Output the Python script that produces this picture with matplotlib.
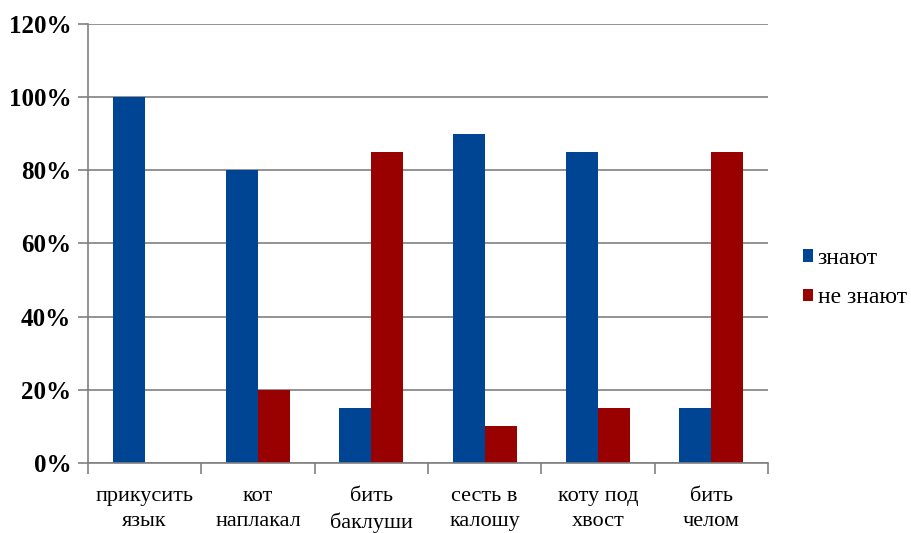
import matplotlib
matplotlib.use("Agg")
import matplotlib.pyplot as plt
import numpy as np
from matplotlib.ticker import FixedLocator, PercentFormatter

categories = ["прикусить\nязык", "кот\nнаплакал", "бить\nбаклуши",
              "сесть в\nкалошу", "коту под\nхвост", "бить\nчелом"]
know = [100, 80, 15, 90, 85, 15]
dont_know = [0, 20, 85, 10, 15, 85]
series_names = ["знают", "не знают"]
yticks = [0, 20, 40, 60, 80, 100, 120]

plt.rcParams['font.family'] = ['Liberation Serif', 'DejaVu Serif']

fig = plt.figure(figsize=(9.11, 5.33), dpi=100)
ax = fig.add_axes([88/911, 1-463/533, (768-88)/911, (463-24)/533])

n = len(categories)
centers = np.arange(n) + 0.5
w = 0.283
ax.bar(centers - w/2, know, width=w, color="#004494", label=series_names[0], zorder=3)
ax.bar(centers + w/2, dont_know, width=w, color="#990000", label=series_names[1], zorder=3)

ax.set_xlim(0, n)
ax.set_ylim(0, 120)
ax.set_yticks(yticks)
ax.yaxis.set_major_formatter(PercentFormatter(decimals=0))
for lab in ax.get_yticklabels():
    lab.set_fontweight('bold')
    lab.set_fontsize(18)
ax.yaxis.grid(True, color="#808080", linewidth=1.2, zorder=0)

ax.xaxis.set_major_locator(FixedLocator(np.arange(n + 1)))
ax.xaxis.set_minor_locator(FixedLocator(centers))
ax.set_xticklabels([], minor=False)
ax.set_xticklabels(categories, minor=True, fontsize=16, linespacing=1.45)
ax.tick_params(axis='x', which='major', length=8, width=1.2, color="#808080", direction='out')
ax.tick_params(axis='x', which='minor', length=0, pad=17)
ax.tick_params(axis='y', length=7, width=1.2, color="#808080", pad=5)

for s in ['top', 'right']:
    ax.spines[s].set_visible(False)
for s in ['left', 'bottom']:
    ax.spines[s].set_color("#808080")
    ax.spines[s].set_linewidth(1.2)
    ax.spines[s].set_zorder(4)

leg = fig.legend(loc='upper left', bbox_to_anchor=(803/911, 1-248/533),
                 frameon=False, borderpad=0, borderaxespad=0,
                 handlelength=0.42, handleheight=0.42,
                 handletextpad=0.2, labelspacing=0.78,
                 prop={'size': 17})

fig.savefig("out.png", dpi=100)
